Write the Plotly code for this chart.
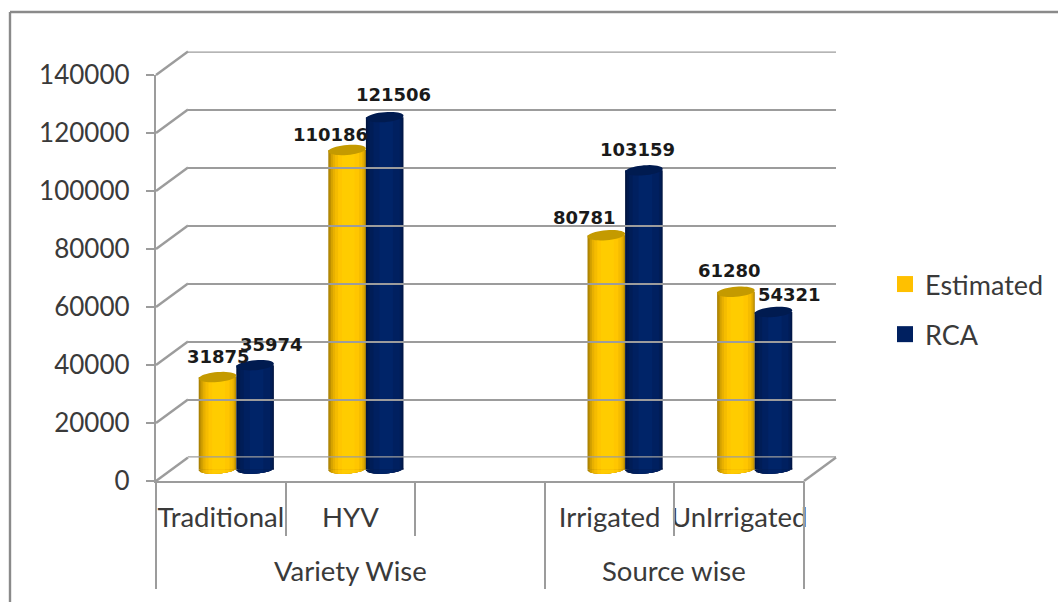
import math
import plotly.graph_objects as go

# ---------- data ----------
categories = ["Traditional", "HYV", "", "Irrigated", "UnIrrigated"]
groups = ["Variety Wise", "Source wise"]
group_centers = [1.0, 3.5]
estimated = [31875, 110186, None, 80781, 61280]
rca = [35974, 121506, None, 103159, 54321]
y_ticks = [0, 20000, 40000, 60000, 80000, 100000, 120000, 140000]

# ---------- geometry (pixels) ----------
W, H = 1058, 602
FX0, FX1, FY0, FY1 = 156.0, 804.0, 481.0, 75.0     # front plane
MID = (15.5, 11.5)     # bars plane offset
BACK = (32.0, 23.5)    # back wall offset
XR = [-0.5, 4.5]
YR = [0, 140000]
PXPV = (FY0 - FY1) / YR[1]
Y2_LOW = -6000         # room under the bars plane for the rounded cylinder bottoms
GRID = "#9C9C9C"
GW = 2.4
TXT = "#3A3A3A"
FONT = "Lato"

def dom(off):
    dx, dy = off
    return ([(FX0 + dx) / W, (FX1 + dx) / W],
            [(H - FY0 + dy) / H, (H - FY1 + dy) / H])

def px_y(v, off=0.0):
    return FY0 - off + (FY1 - FY0) * v / YR[1]

def py(p):
    return (H - p) / H

fig = go.Figure()

# ---------- cylinders ----------
BW = 0.29
est_layers = [(0.00, 1.00, "#A87F00"), (0.03, 0.99, "#BD8F00"), (0.07, 0.97, "#D4A200"),
              (0.12, 0.94, "#E8B000"), (0.18, 0.90, "#F5BC00"), (0.26, 0.82, "#FFC600"),
              (0.36, 0.70, "#FFCC00")]
rca_layers = [(0.00, 1.00, "#00143F"), (0.04, 0.98, "#001A4E"), (0.10, 0.95, "#001D57"),
              (0.20, 0.90, "#002060"), (0.36, 0.72, "#002468")]

def add_cylinder(vals, left, layers):
    xs = [i for i, v in enumerate(vals) if v is not None]
    ys = [v for v in vals if v is not None]
    for a, b, col in layers:
        fig.add_trace(go.Bar(x=xs, y=ys, width=BW * (b - a), offset=left + BW * a,
                             marker=dict(color=col, line=dict(width=0)),
                             xaxis="x2", yaxis="y2", showlegend=False, hoverinfo="skip"))

add_cylinder(estimated, -BW, est_layers)
add_cylinder(rca, 0.0, rca_layers)

# empty traces so the extra axes are drawn
for xa, ya in [("x", "y"), ("x3", "y3"), ("x4", "y"), ("x5", "y")]:
    fig.add_trace(go.Scatter(x=[None], y=[None], xaxis=xa, yaxis=ya, showlegend=False,
                             mode="markers", hoverinfo="skip"))

# legend
for name, col in [("Estimated", "#FFC000"), ("RCA", "#002060")]:
    fig.add_trace(go.Scatter(x=[None], y=[None], name=name, mode="markers", legendgroup=name,
                             marker=dict(symbol="square", size=16, color=col),
                             xaxis="x2", yaxis="y2"))

# ---------- layout ----------
xd, yd = dom((0, 0))
x2d, y2d = dom(MID)
x3d, y3d = dom(BACK)
y2d = [y2d[0] + Y2_LOW * PXPV / H, y2d[1]]
hidden = dict(showgrid=False, zeroline=False, showticklabels=False, ticks="", showline=False, automargin=False)

layout = dict(
    width=W, height=H, margin=dict(l=0, r=0, t=0, b=0, pad=0), autosize=False,
    paper_bgcolor="white", plot_bgcolor="rgba(0,0,0,0)",
    barmode="overlay", font=dict(family=FONT, color=TXT, size=27),
    xaxis=dict(domain=xd, range=XR, anchor="y", tickmode="array", tickvals=[0, 1, 3, 4],
               ticktext=[categories[i] for i in (0, 1, 3, 4)], ticks="", showgrid=False, zeroline=False,
               showline=True, linecolor=GRID, linewidth=GW, ticklabelstandoff=11, tickangle=0, automargin=False,
               tickfont=dict(family=FONT, size=27.5, color=TXT)),
    yaxis=dict(domain=yd, range=YR, anchor="x", tickmode="array", tickvals=y_ticks,
               ticktext=[str(v) for v in y_ticks], ticks="outside", ticklen=8, tickwidth=GW, tickcolor=GRID,
               showgrid=False, zeroline=False, showline=True, linecolor=GRID, linewidth=GW, automargin=False,
               ticklabelstandoff=11, tickfont=dict(family=FONT, size=26, color=TXT)),
    xaxis2=dict(domain=x2d, range=XR, anchor="y2", **hidden),
    yaxis2=dict(domain=y2d, range=[Y2_LOW, YR[1]], anchor="x2", **hidden),
    xaxis3=dict(domain=x3d, range=XR, anchor="y3", **hidden),
    yaxis3=dict(domain=y3d, range=YR, anchor="x3", tickmode="array", tickvals=y_ticks, automargin=False,
                showgrid=True, gridcolor=GRID, gridwidth=GW, zeroline=False,
                showticklabels=False, ticks="", showline=False),
    xaxis4=dict(domain=xd, range=XR, anchor="y", overlaying="x", tickmode="array", tickvals=[0.5, 1.5, 3.5],
                ticks="outside", ticklen=54, tickwidth=GW, tickcolor=GRID, showticklabels=False, automargin=False,
                showgrid=False, zeroline=False),
    xaxis5=dict(domain=xd, range=XR, anchor="y", overlaying="x", tickmode="array", tickvals=[-0.5, 2.5, 4.5],
                ticks="outside", ticklen=107, tickwidth=GW, tickcolor=GRID, showticklabels=False, automargin=False,
                showgrid=False, zeroline=False),
    legend=dict(x=885 / W, y=py(260), xanchor="left", yanchor="top",
                tracegroupgap=12, font=dict(family=FONT, size=27, color=TXT), bgcolor="rgba(0,0,0,0)"),
    showlegend=True,
)
fig.update_layout(**layout)

# ---------- shapes ----------
shapes = []

def line(x0, y0, x1, y1, col=GRID, w=GW):
    shapes.append(dict(type="line", xref="paper", yref="paper", x0=x0 / W, x1=x1 / W,
                       y0=py(y0), y1=py(y1), line=dict(color=col, width=w)))

# chart frame
line(10, 12, W, 12, "#8A8A8A", 2.4)
line(10, 12, 10, H, "#8A8A8A", 2.4)
# wall/floor diagonals
for v in y_ticks:
    line(FX0, px_y(v), FX0 + BACK[0], px_y(v) - BACK[1])
line(FX1, FY0, FX1 + BACK[0], FY0 - BACK[1])
# first and last wall lines sit on the edge of the axis range
for v in (YR[0], YR[1]):
    shapes.append(dict(type="line", xref="x3", yref="y3", x0=XR[0], x1=XR[1], y0=v, y1=v,
                       layer="below", line=dict(color=GRID, width=GW)))

def ellipse(cx, v, a, b_px, tilt_px):
    pts = []
    for k in range(40):
        t = 2 * math.pi * k / 40
        pts.append((cx + a * math.cos(t), v + (b_px * math.sin(t) + tilt_px * math.cos(t)) / PXPV))
    return "M" + " L".join(f"{x:.4f},{y:.1f}" for x, y in pts) + " Z"

def bottom_strip(cx, a, u0, u1, b_px, tilt_px):
    """Part of the lower half of the base ellipse between fractions u0 and u1 of the width."""
    n = 10
    pts = [(cx + a * (2 * u0 - 1), 0.0)]
    for k in range(n + 1):
        u = 2 * (u0 + (u1 - u0) * k / n) - 1
        d = b_px * math.sqrt(max(0.0, 1 - u * u)) - tilt_px * u
        pts.append((cx + a * u, -d / PXPV))
    pts.append((cx + a * (2 * u1 - 1), 0.0))
    return "M" + " L".join(f"{x:.4f},{y:.1f}" for x, y in pts) + " Z"

for vals, shift, top, layers in [(estimated, -BW / 2, "#C49A00", est_layers),
                                 (rca, BW / 2, "#001B50", rca_layers)]:
    for i, v in enumerate(vals):
        if v is None:
            continue
        cx = i + shift
        for a, b, col in layers:
            shapes.append(dict(type="path", xref="x2", yref="y2",
                               path=bottom_strip(cx, BW / 2, a, b, 4.0, 1.2),
                               fillcolor=col, line=dict(width=0)))
        shapes.append(dict(type="path", xref="x2", yref="y2", path=ellipse(cx, v, BW / 2, 5, 1.5),
                           fillcolor=top, line=dict(width=0)))
fig.update_layout(shapes=shapes)

# ---------- annotations ----------
ann = []
label_shift_est = [(1, 21), (-17, 15), (-22, 18), (-6, 21)]
label_shift_rca = [(16, 21), (9, 23), (-6, 21), (16, 17)]
def add_labels(vals, shift, offsets):
    it = iter(offsets)
    for i, v in enumerate(vals):
        if v is None:
            continue
        dx, dy = next(it)
        ann.append(dict(x=i + shift, y=v, xref="x2", yref="y2", text="<b>" + str(v) + "</b>", showarrow=False,
                        xshift=dx, yshift=dy, font=dict(family="DejaVu Sans", size=18, color="#1A1A1A"),
                        xanchor="center", yanchor="middle"))
add_labels(estimated, -BW / 2, label_shift_est)
add_labels(rca, BW / 2, label_shift_rca)
for g, c in zip(groups, group_centers):
    ann.append(dict(x=c, y=py(570), xref="x", yref="paper", text=g, showarrow=False,
                    font=dict(family=FONT, size=27.5, color=TXT), xanchor="center", yanchor="middle"))
fig.update_layout(annotations=ann)

fig.write_html("out.html", config={"displayModeBar": False},
               post_script="document.body.style.margin='0';")
